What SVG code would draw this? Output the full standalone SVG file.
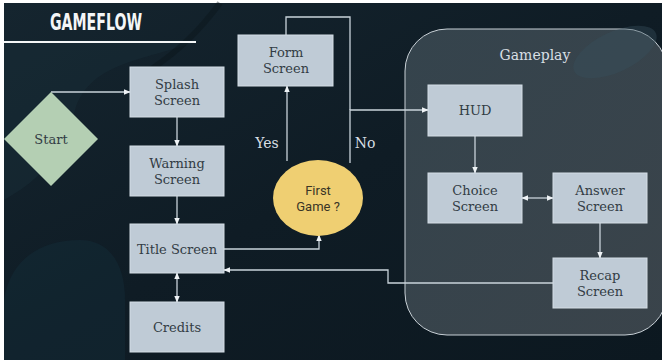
<svg xmlns="http://www.w3.org/2000/svg" width="662" height="360" viewBox="0 0 662 360">
  <defs>
    <linearGradient id="bg" x1="0" y1="0" x2="1" y2="1">
      <stop offset="0" stop-color="#15252f"/>
      <stop offset="0.5" stop-color="#0f1c25"/>
      <stop offset="1" stop-color="#0c1820"/>
    </linearGradient>
    <linearGradient id="panel" x1="0" y1="0" x2="1" y2="1">
      <stop offset="0" stop-color="#3b4a53"/>
      <stop offset="1" stop-color="#424b52"/>
    </linearGradient>
    <marker id="arr" viewBox="0 0 10 10" refX="9" refY="5" markerWidth="7" markerHeight="7" markerUnits="userSpaceOnUse" orient="auto-start-reverse">
      <path d="M0,1 L10,5 L0,9 Z" fill="#eef2f5"/>
    </marker>
    <style>
      .box { fill: #bfcbd6; stroke: #d4dde5; stroke-width: 1; }
      .lbl { font-family: "DejaVu Serif", "Liberation Serif", serif; font-size: 13px; fill: #323c44; text-anchor: middle; }
      .conn { fill: none; stroke: #c9d3da; stroke-width: 1.3; }
      .tag { font-family: "DejaVu Serif", "Liberation Serif", serif; font-size: 14px; fill: #d8dfe4; text-anchor: middle; }
    </style>
  </defs>

  <!-- backdrop -->
  <rect x="0" y="0" width="662" height="360" fill="#ffffff"/>
  <rect x="4" y="3" width="658" height="357" fill="url(#bg)"/>
  <path d="M4,40 L200,40 C150,60 90,60 75,110 C60,170 20,190 4,200 Z" fill="#182c36" opacity="0.6"/>
  <path d="M4,300 C10,260 40,240 80,240 C110,240 125,265 125,300 L125,360 L4,360 Z" fill="#13303b" opacity="0.4"/>
  <path d="M220,3 C200,30 180,50 150,70" fill="none" stroke="#0a141a" stroke-width="6" opacity="0.4"/>

  <!-- heading -->
  <text x="50" y="30" font-family="DejaVu Sans Condensed, DejaVu Sans, sans-serif" font-weight="bold" font-size="23" fill="#f4f6f7" textLength="92" lengthAdjust="spacingAndGlyphs">GAMEFLOW</text>
  <rect x="4" y="41" width="192" height="2" fill="#f4f6f7"/>

  <!-- gameplay container -->
  <g id="gameplay">
    <rect x="405" y="29" width="262" height="306" rx="42" ry="42" fill="url(#panel)" fill-opacity="0.85" stroke="#c8d0d6" stroke-width="1"/>
    <ellipse cx="615" cy="52" rx="45" ry="20" transform="rotate(-25 615 52)" fill="#36505c" opacity="0.4"/>
    <text class="tag" x="535" y="60">Gameplay</text>
  </g>

  <!-- connectors -->
  <g id="connectors">
    <path class="conn" d="M51,92 H130" marker-end="url(#arr)"/>
    <path class="conn" d="M177,117 V146" marker-end="url(#arr)"/>
    <path class="conn" d="M177,196 V224" marker-end="url(#arr)"/>
    <path class="conn" d="M177,273 V302" marker-start="url(#arr)" marker-end="url(#arr)"/>
    <path class="conn" d="M224,249 H319 V235" marker-end="url(#arr)"/>
    <path class="conn" d="M287,161 V86" marker-end="url(#arr)"/>
    <path class="conn" d="M350,163 V110 H428" marker-end="url(#arr)"/>
    <path class="conn" d="M286,35 V17 H350 V110"/>
    <path class="conn" d="M475,136 V173" marker-end="url(#arr)"/>
    <path class="conn" d="M522,198 H553" marker-start="url(#arr)" marker-end="url(#arr)"/>
    <path class="conn" d="M600,223 V258" marker-end="url(#arr)"/>
    <path class="conn" d="M553,283 H388 V270 H224" marker-end="url(#arr)"/>
    <text class="tag" x="267" y="148">Yes</text>
    <text class="tag" x="365" y="148">No</text>
  </g>

  <g id="start">
    <polygon points="51,92 98,139 51,186 4,139" fill="#b4cfb3"/>
    <text class="lbl" x="51" y="144">Start</text>
  </g>

  <g id="splash">
    <rect class="box" x="130" y="67" width="94" height="50"/>
    <text class="lbl" x="177" y="89">Splash</text>
    <text class="lbl" x="177" y="105">Screen</text>
  </g>

  <g id="warning">
    <rect class="box" x="130" y="146" width="94" height="50"/>
    <text class="lbl" x="177" y="168">Warning</text>
    <text class="lbl" x="177" y="184">Screen</text>
  </g>

  <g id="title">
    <rect class="box" x="130" y="224" width="94" height="49"/>
    <text class="lbl" x="177" y="254">Title Screen</text>
  </g>

  <g id="credits">
    <rect class="box" x="130" y="302" width="94" height="50"/>
    <text class="lbl" x="177" y="332">Credits</text>
  </g>

  <g id="form">
    <rect class="box" x="238" y="35" width="95" height="51"/>
    <text class="lbl" x="286" y="57">Form</text>
    <text class="lbl" x="286" y="73">Screen</text>
  </g>

  <g id="first-game">
    <ellipse cx="318" cy="198" rx="45" ry="38" fill="#efcf72"/>
    <text x="318" y="195" font-family="Roboto, 'Liberation Sans', sans-serif" font-size="13" fill="#3a3526" text-anchor="middle">First</text>
    <text x="318" y="211" font-family="Roboto, 'Liberation Sans', sans-serif" font-size="13" fill="#3a3526" text-anchor="middle">Game ?</text>
  </g>

  <g id="hud">
    <rect class="box" x="428" y="85" width="94" height="51"/>
    <text class="lbl" x="475" y="115">HUD</text>
  </g>

  <g id="choice">
    <rect class="box" x="428" y="173" width="94" height="50"/>
    <text class="lbl" x="475" y="195">Choice</text>
    <text class="lbl" x="475" y="211">Screen</text>
  </g>

  <g id="answer">
    <rect class="box" x="553" y="173" width="94" height="50"/>
    <text class="lbl" x="600" y="195">Answer</text>
    <text class="lbl" x="600" y="211">Screen</text>
  </g>

  <g id="recap">
    <rect class="box" x="553" y="258" width="94" height="50"/>
    <text class="lbl" x="600" y="280">Recap</text>
    <text class="lbl" x="600" y="296">Screen</text>
  </g>
</svg>
